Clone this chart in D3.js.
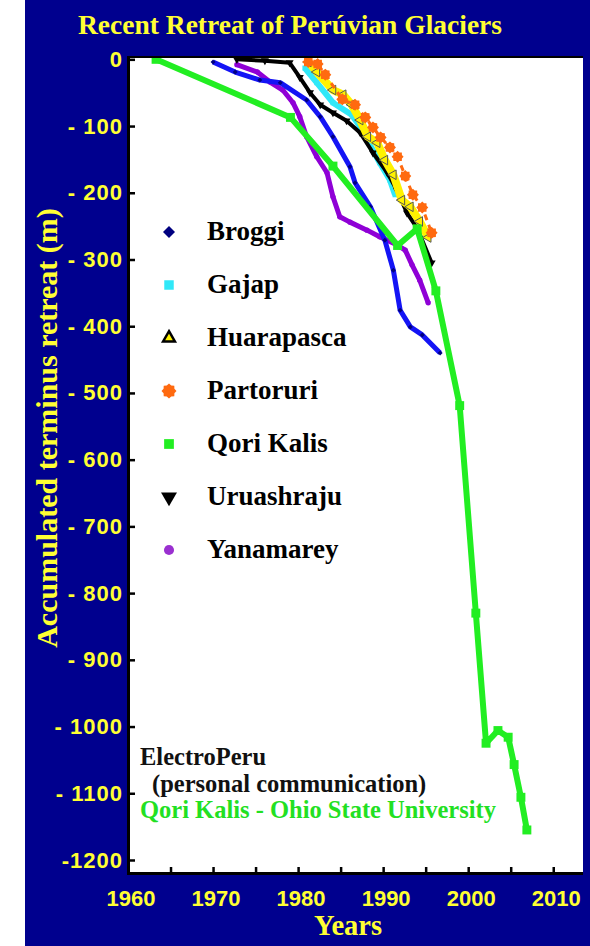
<!DOCTYPE html>
<html>
<head>
<meta charset="utf-8">
<script src="https://cdn.jsdelivr.net/npm/d3@7"></script>
<style>
  body { margin: 0; background: #fff; }
</style>
</head>
<body>
<div id="chart"></div>
<script>
// glacier terminus retreat, [year, accumulated retreat in m]
var broggi = [[1970.0,-4],[1972.6,-19],[1975.5,-31],[1977.9,-35],[1981.0,-61],[1982.6,-86],[1984.1,-116],
  [1986.1,-161],[1986.7,-185],[1988.5,-221],[1990.2,-271],[1991.2,-316],[1992.0,-376],[1993.2,-401],
  [1994.6,-413],[1996.7,-440]];
var gajap = [[1980.8,-13],[1982.2,-35],[1984.1,-65],[1986.3,-83],[1987.3,-101],[1988.1,-120],
  [1989.6,-155],[1990.8,-181],[1991.4,-203]];
var huarapasca = [[1981.2,-4],[1982.2,-19],[1984.1,-46],[1985.3,-53],[1986.3,-68],[1987.3,-91],
  [1988.2,-116],[1989.3,-125],[1990.2,-151],[1991.2,-173],[1992.2,-211],[1993.2,-221],[1994.3,-243],
  [1995.3,-267]];
var partoruri = [[1981.2,-4],[1982.3,-7],[1983.2,-23],[1985.2,-60],[1986.7,-68],[1987.9,-87],
  [1988.8,-102],[1989.7,-117],[1990.8,-132],[1991.7,-146],[1992.6,-175],[1993.5,-203],[1994.6,-222],
  [1995.7,-260]];
var qoriKalis = [[1963.3,0],[1979.1,-87],[1984.1,-160],[1991.7,-279],[1994.0,-254],[1996.2,-347],
  [1999.0,-519],[2000.9,-830],[2002.1,-1025],[2003.5,-1006],[2004.7,-1016],[2005.4,-1057],
  [2006.2,-1106],[2006.9,-1155]];
var uruashraju = [[1972.8,0],[1976.1,-2],[1979.0,-5],[1980.2,-27],[1981.4,-50],[1982.6,-68],
  [1984.1,-80],[1985.7,-92],[1987.3,-110],[1988.8,-140],[1990.5,-170],[1991.6,-196],[1992.8,-230],
  [1994.0,-253],[1995.7,-305]];
var yanamarey = [[1972.8,-8],[1975.2,-19],[1976.7,-34],[1978.2,-46],[1979.4,-65],[1980.2,-86],
  [1981.0,-116],[1982.2,-146],[1983.4,-170],[1984.1,-206],[1984.9,-236],[1986.1,-244],[1988.1,-256],
  [1989.6,-266],[1991.6,-278],[1992.6,-286],[1993.4,-308],[1994.3,-331],[1995.3,-365]];

var glacierNames = ["Broggi", "Gajap", "Huarapasca", "Partoruri", "Qori Kalis", "Uruashraju", "Yanamarey"];
var yTicks = [0, -100, -200, -300, -400, -500, -600, -700, -800, -900, -1000, -1100, -1200];
var xMinorTicks = [1965, 1970, 1975, 1980, 1985, 1990, 1995, 2000, 2005, 2010];
var xLabels = [1960, 1970, 1980, 1990, 2000, 2010];

var W = 590, H = 946;
var serif = "'Liberation Serif', 'Times New Roman', serif";
var sans = "'Liberation Sans', Arial, sans-serif";
var yellow = "#ffff33";

var svg = d3.select("#chart").append("svg")
  .attr("width", W)
  .attr("height", H);

// blue panel
svg.append("rect")
  .attr("x", 25).attr("y", 0)
  .attr("width", W - 25).attr("height", H)
  .attr("fill", "#00008e");

var x = d3.scaleLinear().domain([1960, 2013.5]).range([128, 583]);
var y = d3.scaleLinear().domain([2, -1218]).range([58, 872]);

// plot box with dark shadow on the left and bottom
svg.append("rect")
  .attr("x", 127).attr("y", 56)
  .attr("width", 456).attr("height", 819)
  .attr("fill", "#000");
svg.append("rect")
  .attr("x", 130).attr("y", 58)
  .attr("width", 453).attr("height", 814)
  .attr("fill", "#fff");

svg.append("clipPath").attr("id", "clip")
  .append("rect")
  .attr("x", 130).attr("y", 58)
  .attr("width", 453).attr("height", 814);

// y axis
var yAxis = d3.axisLeft(y)
  .tickValues(yTicks)
  .tickSize(-5)
  .tickPadding(7)
  .tickFormat(function(d) {
    if (d === 0) return "0";
    if (d === -1200) return "-1200";
    return "- " + (-d);
  });
var gy = svg.append("g")
  .attr("transform", "translate(130,0)")
  .call(yAxis);
gy.select(".domain").remove();
gy.selectAll(".tick line").attr("stroke", "#000").attr("stroke-width", 2.5);
gy.selectAll(".tick text")
  .attr("fill", yellow)
  .style("font-family", sans)
  .style("font-weight", "bold")
  .style("font-size", "22px")
  .style("letter-spacing", "1px");

// x axis minor ticks
var xAxis = d3.axisBottom(x)
  .tickValues(xMinorTicks)
  .tickSize(-5)
  .tickFormat("");
var gx = svg.append("g")
  .attr("transform", "translate(0,872)")
  .call(xAxis);
gx.select(".domain").remove();
gx.selectAll(".tick line").attr("stroke", "#000").attr("stroke-width", 2.5);

svg.selectAll(".xlabel")
  .data(xLabels)
  .enter()
  .append("text")
  .attr("class", "xlabel")
  .attr("x", function(d) { return x(d) + 3; })
  .attr("y", 906)
  .attr("text-anchor", "middle")
  .attr("fill", yellow)
  .style("font-family", sans)
  .style("font-weight", "bold")
  .style("font-size", "22px")
  .text(function(d) { return d; });

// titles
svg.append("text")
  .attr("x", 290).attr("y", 34)
  .attr("text-anchor", "middle")
  .attr("fill", yellow)
  .style("font-family", serif)
  .style("font-weight", "bold")
  .style("font-size", "27.5px")
  .text("Recent Retreat of Perúvian Glaciers");

svg.append("text")
  .attr("x", 348).attr("y", 935)
  .attr("text-anchor", "middle")
  .attr("fill", yellow)
  .style("font-family", serif)
  .style("font-weight", "bold")
  .style("font-size", "28.5px")
  .text("Years");

svg.append("text")
  .attr("transform", "translate(57,428) rotate(-90)")
  .attr("text-anchor", "middle")
  .attr("fill", yellow)
  .style("font-family", serif)
  .style("font-weight", "bold")
  .style("font-size", "30px")
  .text("Accumulated terminus retreat (m)");

// marker shapes
function burst(r) {
  var pts = [];
  for (var i = 0; i < 16; i++) {
    var a = i * Math.PI / 8;
    var rr = i % 2 === 0 ? r : r * 0.78;
    pts.push([rr * Math.cos(a), rr * Math.sin(a)]);
  }
  return "M" + pts.join("L") + "Z";
}
function diamond(r) {
  return "M0," + (-r) + "L" + r + ",0L0," + r + "L" + (-r) + ",0Z";
}
function sym(type, size) { return d3.symbol().type(type).size(size)(); }

var series = [
  { name: glacierNames[6], data: yanamarey, line: "#8f00d6", width: 5, marker: "#8f00d6", legendColor: "#9a30d0",
    shape: function() { return sym(d3.symbolCircle, 22); }, legendShape: sym(d3.symbolCircle, 80) },
  { name: glacierNames[0], data: broggi, line: "#1414f5", width: 5, marker: "#000080", legendColor: "#000080",
    shape: function() { return diamond(2.5); }, legendShape: diamond(6) },
  { name: glacierNames[1], data: gajap, line: "#30e8f8", width: 6, marker: "#30e8f8", legendColor: "#30e8f8",
    shape: function() { return sym(d3.symbolSquare, 25); }, legendShape: sym(d3.symbolSquare, 90) },
  { name: glacierNames[5], data: uruashraju, line: "#000", width: 4, marker: "#000", legendColor: "#000",
    shape: function() { return sym(d3.symbolTriangle, 28); }, rotate: 180, legendShape: sym(d3.symbolTriangle, 110), legendRotate: 180 },
  { name: glacierNames[2], data: huarapasca, line: "#fff200", width: 8, marker: "#fff200", stroke: "#555", legendColor: "#fff200",
    shape: function() { return sym(d3.symbolTriangle, 40); }, rotate: -90, legendShape: sym(d3.symbolTriangle, 60), legendStroke: "#000" },
  { name: glacierNames[3], data: partoruri, line: "#ff6a10", width: 3, dash: "6,5", marker: "#ff6a10", legendColor: "#ff6a10",
    shape: function() { return burst(6); }, legendShape: burst(7.5) },
  { name: glacierNames[4], data: qoriKalis, line: "#22ee22", width: 6, marker: "#22ee22", legendColor: "#22ee22",
    shape: function() { return sym(d3.symbolSquare, 80); }, legendShape: sym(d3.symbolSquare, 95) }
];

var line = d3.line()
  .x(function(d) { return x(d[0]); })
  .y(function(d) { return y(d[1]); });

var plotG = svg.append("g").attr("clip-path", "url(#clip)");

series.forEach(function(s) {
  plotG.append("path")
    .datum(s.data)
    .attr("d", line)
    .attr("fill", "none")
    .attr("stroke", s.line)
    .attr("stroke-width", s.width)
    .attr("stroke-linejoin", "round")
    .attr("stroke-dasharray", s.dash || null);

  plotG.selectAll(null)
    .data(s.data)
    .enter()
    .append("path")
    .attr("d", s.shape)
    .attr("transform", function(d) {
      return "translate(" + x(d[0]) + "," + y(d[1]) + ")" + (s.rotate ? " rotate(" + s.rotate + ")" : "");
    })
    .attr("fill", s.marker)
    .attr("stroke", s.stroke || "none")
    .attr("stroke-width", 1);
});

// legend, in the original order
glacierNames.forEach(function(name, i) {
  var s = series.filter(function(d) { return d.name === name; })[0];
  var cy = 232 + i * 53;
  svg.append("path")
    .attr("d", s.legendShape)
    .attr("transform", "translate(169," + cy + ")" + (s.legendRotate ? " rotate(" + s.legendRotate + ")" : ""))
    .attr("fill", s.legendColor)
    .attr("stroke", s.legendStroke || "none")
    .attr("stroke-width", 2.5);
  svg.append("text")
    .attr("x", 207)
    .attr("y", cy + 8)
    .attr("fill", "#000")
    .style("font-family", serif)
    .style("font-weight", "bold")
    .style("font-size", "27px")
    .text(name);
});

// source notes
var notes = [
  { text: "ElectroPeru", x: 140, y: 765, color: "#111" },
  { text: "(personal communication)", x: 152, y: 792, color: "#111" },
  { text: "Qori Kalis - Ohio State University", x: 140, y: 818, color: "#22e022" }
];
svg.selectAll(".note")
  .data(notes)
  .enter()
  .append("text")
  .attr("class", "note")
  .attr("x", function(d) { return d.x; })
  .attr("y", function(d) { return d.y; })
  .attr("fill", function(d) { return d.color; })
  .style("font-family", serif)
  .style("font-weight", "bold")
  .style("font-size", "24.5px")
  .text(function(d) { return d.text; });
</script>
</body>
</html>
